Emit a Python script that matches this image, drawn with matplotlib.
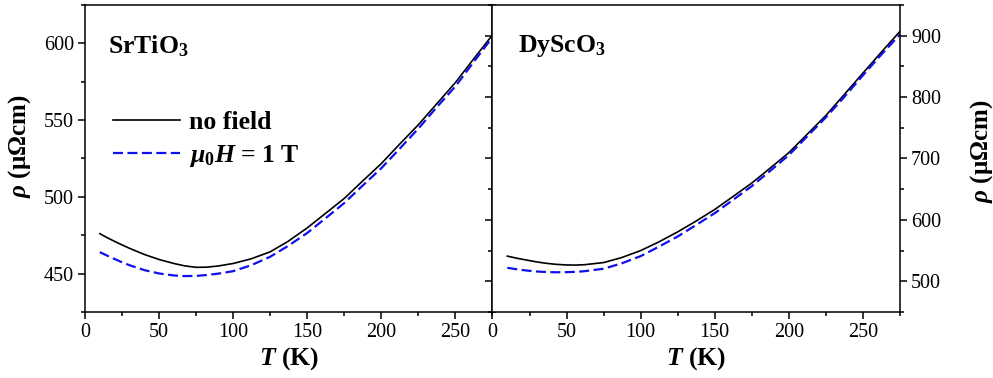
import matplotlib
matplotlib.use("Agg")
import matplotlib.pyplot as plt
from matplotlib.ticker import MultipleLocator

plt.rcParams['font.family'] = ['Liberation Serif', 'DejaVu Serif']
plt.rcParams['mathtext.fontset'] = 'custom'
plt.rcParams['mathtext.rm'] = 'Liberation Serif:bold'
plt.rcParams['mathtext.it'] = 'Liberation Serif:italic:bold'
plt.rcParams['mathtext.bf'] = 'Liberation Serif:bold'

# SrTiO3 panel
sto_T = [10, 15, 20, 25, 30, 40, 50, 60, 67, 75, 82, 90, 100, 112, 125, 137,
         150, 162, 175, 187, 200, 212, 225, 237, 250, 262, 275]
sto_zero = [476, 473.4, 471, 468.7, 466.5, 462.5, 459.2, 456.6, 455.1, 454.1,
            454.2, 455, 456.6, 459.6, 464.2, 471, 479.8, 489, 499, 510, 521.7,
            534, 547, 560.2, 574.5, 589.5, 605.5]
sto_field = [464, 461.7, 459.5, 457.4, 455.5, 452.3, 450.1, 448.8, 448.4,
             448.5, 449.1, 450, 451.6, 455.4, 461, 468, 476.5, 485.8, 496, 507,
             518.7, 531, 544.5, 558, 572, 587.5, 604]

# DyScO3 panel
dso_T = [10, 17, 25, 31, 37, 43, 50, 56, 62, 75, 87, 100, 112, 125, 137, 150,
         162, 175, 187, 200, 212, 225, 237, 250, 262, 275]
dso_zero = [541, 537.3, 533.7, 531.1, 529.1, 527.6, 526.6, 526.4, 527, 530.5,
            538.5, 550, 563.8, 580.5, 597.5, 617, 637.5, 660, 683.5, 709.5,
            738.5, 770, 803, 839, 872, 907]
dso_field = [522, 519.3, 517, 515.8, 515, 514.7, 514.9, 515.4, 516.4, 520.5,
             529, 541, 556, 573, 591, 611, 632, 655, 679, 705.5, 735, 767,
             799, 835.5, 868, 902]

fig = plt.figure(figsize=(9.93, 3.78), dpi=100)
ax1 = fig.add_subplot(1, 2, 1)
ax2 = fig.add_subplot(1, 2, 2)
fig.subplots_adjust(left=0.0856, right=0.9063, top=0.9868, bottom=0.1746, wspace=0)

dash = (4.5, 2)
ax1.plot(sto_T, sto_zero, '-', color='black', lw=1.2, label='no field')
ax1.plot(sto_T, sto_field, '--', color='#1010ee', lw=1.6, dashes=dash,
         label=r'$\mu_0H$ = 1 T')
ax2.plot(dso_T, dso_zero, '-', color='black', lw=1.2)
ax2.plot(dso_T, dso_field, '--', color='#1010ee', lw=1.6, dashes=dash)

ax1.set_ylim(425, 625)
ax1.yaxis.set_major_locator(MultipleLocator(50))
ax1.yaxis.set_minor_locator(MultipleLocator(25))
ax2.set_ylim(450, 950)
ax2.yaxis.set_major_locator(MultipleLocator(100))
ax2.yaxis.set_minor_locator(MultipleLocator(50))

for ax in (ax1, ax2):
    ax.set_xlim(0, 275)
    ax.xaxis.set_major_locator(MultipleLocator(50))
    ax.xaxis.set_minor_locator(MultipleLocator(25))
    ax.tick_params(which='both', direction='out', left=True, right=True,
                   top=False, bottom=True, width=1.1, labelsize=14.5)
    ax.tick_params(which='major', length=5, pad=3)
    ax.tick_params(which='minor', length=3)
    for s in ax.spines.values():
        s.set_linewidth(1.1)
    ax.set_xlabel(r'$T$ (K)', fontsize=18.5, fontweight='bold', labelpad=2)

ax1.tick_params(labelleft=True, labelright=False)
ax2.tick_params(labelleft=False, labelright=True)

ax1.set_ylabel(r'$\rho$ (μΩcm)', fontsize=18, fontweight='bold')
ax1.yaxis.set_label_coords(-0.128, 0.54)
ax2.yaxis.set_label_position('right')
ax2.set_ylabel(r'$\rho$ (μΩcm)', fontsize=18, fontweight='bold', rotation=90)
ax2.yaxis.set_label_coords(1.167, 0.525)

ax1.text(0.057, 0.865, r'SrTiO$_3$', transform=ax1.transAxes,
         fontsize=18.5, fontweight='bold', va='center', ha='left')
ax2.text(0.062, 0.865, r'DyScO$_3$', transform=ax2.transAxes,
         fontsize=18.5, fontweight='bold', va='center', ha='left')

ax1.legend(loc='upper left', bbox_to_anchor=(0.043, 0.688), frameon=False,
           prop={'size': 18.5, 'weight': 'bold'}, handlelength=2.6,
           handletextpad=0.35, labelspacing=0.35, borderaxespad=0)

fig.savefig('out.png', dpi=100)
